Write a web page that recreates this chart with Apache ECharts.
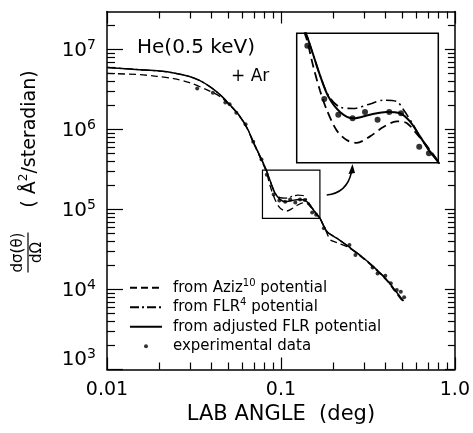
<!DOCTYPE html>
<html><head><meta charset="utf-8">
<script src="https://cdn.jsdelivr.net/npm/echarts@6/dist/echarts.min.js"></script>
<style>html,body{margin:0;padding:0;background:#fff}#c{width:473px;height:433px}</style>
</head><body><div id="c"></div>
<script>
const FONT = 'DejaVu Sans';

// ---- data (lab angle in deg, cross section in Å²/sr) ----
const adjX = [0.01, 0.0154, 0.0201, 0.0242, 0.0298, 0.0340, 0.0388, 0.0443, 0.0505, 0.0576, 0.0640, 0.0693, 0.0773, 0.0823, 0.0856, 0.0887, 0.0928, 0.0988, 0.1061, 0.1161, 0.1269, 0.1363, 0.1438, 0.1518, 0.1602, 0.1675, 0.1843, 0.2103, 0.2453, 0.2922, 0.3486, 0.4155, 0.4437, 0.506];
const adjY = [5.99e6, 5.62e6, 5.39e6, 5.11e6, 4.62e6, 4.12e6, 3.48e6, 2.78e6, 2.08e6, 1.50e6, 1.04e6, 7.04e5, 4.24e5, 3.12e5, 2.47e5, 1.99e5, 1.58e5, 1.34e5, 1.25e5, 1.30e5, 1.34e5, 1.32e5, 1.21e5, 1.03e5, 8.73e4, 7.8e4, 5.28e4, 4.36e4, 3.43e4, 2.57e4, 1.84e4, 1.25e4, 1.035e4, 7.2e3];

const flrX = [0.01, 0.0154, 0.0201, 0.0242, 0.0298, 0.0340, 0.0388, 0.0443, 0.0505, 0.0576, 0.0640, 0.0693, 0.0773, 0.0823, 0.0856, 0.0887, 0.0928, 0.0988, 0.1061, 0.1161, 0.1247, 0.1339, 0.1387, 0.1451, 0.1518, 0.1602, 0.1675, 0.1843, 0.2103, 0.2453, 0.2922, 0.3486, 0.4155, 0.4437, 0.506];
const flrY = [5.99e6, 5.62e6, 5.39e6, 5.11e6, 4.62e6, 4.12e6, 3.48e6, 2.78e6, 2.08e6, 1.50e6, 1.04e6, 7.04e5, 4.24e5, 3.12e5, 2.47e5, 1.99e5, 1.60e5, 1.41e5, 1.39e5, 1.46e5, 1.52e5, 1.50e5, 1.38e5, 1.20e5, 1.03e5, 8.73e4, 7.8e4, 5.28e4, 4.36e4, 3.43e4, 2.57e4, 1.84e4, 1.25e4, 1.035e4, 7.2e3];

const azizX = [0.01, 0.0154, 0.0193, 0.0242, 0.0298, 0.0373, 0.0443, 0.0505, 0.0576, 0.0640, 0.0693, 0.0773, 0.0823, 0.0856, 0.0887, 0.092, 0.097, 0.1024, 0.108, 0.1161, 0.1247, 0.1339, 0.1413, 0.1491, 0.1602, 0.1675, 0.1843, 0.1927, 0.2103, 0.2453, 0.2922, 0.3486, 0.4155, 0.4437, 0.506];
const azizY = [5.04e6, 4.87e6, 4.64e6, 4.34e6, 3.87e6, 3.16e6, 2.62e6, 2.05e6, 1.49e6, 1.03e6, 6.90e5, 4.10e5, 3.0e5, 2.18e5, 1.69e5, 1.37e5, 1.10e5, 9.9e4, 9.6e4, 1.03e5, 1.14e5, 1.21e5, 1.19e5, 1.06e5, 8.9e4, 7.8e4, 5.0e4, 4.16e4, 3.85e4, 3.35e4, 2.52e4, 1.80e4, 1.22e4, 1.0e4, 6.9e3];

const expX = [0.0330, 0.0406, 0.0479, 0.0507, 0.0554, 0.0626, 0.0693, 0.0773, 0.0829, 0.0908, 0.0979, 0.1057, 0.1130, 0.1209, 0.1287, 0.1371, 0.1512, 0.1593, 0.1765, 0.2476, 0.268, 0.3365, 0.3593, 0.398, 0.428, 0.4634, 0.4886, 0.5107];
const expY = [3.27e6, 2.90e6, 2.19e6, 2.07e6, 1.63e6, 1.17e6, 7.04e5, 4.24e5, 2.73e5, 1.54e5, 1.30e5, 1.25e5, 1.34e5, 1.23e5, 1.34e5, 1.32e5, 9.2e4, 8.6e4, 5.82e4, 3.6e4, 2.7e4, 1.89e4, 1.59e4, 1.49e4, 1.195e4, 9.86e3, 9.39e3, 7.99e3];

// axes
const xRange = [0.01, 1];
const yRange = [1e3, 3e7];
const xMajor = [0.01, 0.1, 1];
const xMinor = [0.02,0.03,0.04,0.05,0.06,0.07,0.08,0.09,0.2,0.3,0.4,0.5,0.6,0.7,0.8,0.9];
const yMajor = [1e3, 1e4, 1e5, 1e6, 1e7];
const yLabels = [1e4, 1e5, 1e6, 1e7];
const yMinor = [2e3,3e3,4e3,5e3,6e3,7e3,8e3,9e3,2e4,3e4,4e4,5e4,6e4,7e4,8e4,9e4,2e5,3e5,4e5,5e5,6e5,7e5,8e5,9e5,2e6,3e6,4e6,5e6,6e6,7e6,8e6,9e6,2e7];
// magnified window (inset)
const zoomX = [0.0783, 0.1675];
const zoomY = [7.76e4, 3.12e5];

const names = ['from Aziz10 potential', 'from FLR4 potential', 'from adjusted FLR potential', 'experimental data'];

const zip = (a, b) => a.map((v, i) => [v, b[i]]);

function xAx(grid, pos, ticks, len, extra) {
  return Object.assign({
    type: 'log', logBase: 10, gridIndex: grid, min: xRange[0], max: xRange[1], position: pos,
    axisLine: { show: true, onZero: false, lineStyle: { color: '#000', width: 1.5 } },
    axisTick: { show: true, inside: true, length: len, customValues: ticks, lineStyle: { color: '#000', width: 1.2 } },
    axisLabel: { show: false }, splitLine: { show: false }, minorTick: { show: false }
  }, extra || {});
}
function yAx(grid, pos, ticks, len, extra) {
  return Object.assign({
    type: 'log', logBase: 10, gridIndex: grid, min: yRange[0], max: yRange[1], position: pos,
    axisLine: { show: true, onZero: false, lineStyle: { color: '#000', width: 1.5 } },
    axisTick: { show: true, inside: true, length: len, customValues: ticks, lineStyle: { color: '#000', width: 1.2 } },
    axisLabel: { show: false }, splitLine: { show: false }, minorTick: { show: false }
  }, extra || {});
}

const yRich = {
  b: { fontFamily: FONT, fontSize: 20, color: '#000', lineHeight: 22, verticalAlign: 'bottom' },
  s: { fontFamily: FONT, fontSize: 14, color: '#000', lineHeight: 14, padding: [0, 0, 16, 0], verticalAlign: 'top' }
};
const yFmt = v => '{b|10}{s|' + Math.round(Math.log10(v)) + '}';

const chart = echarts.init(document.getElementById('c'), null, { renderer: 'canvas' });

const mainLine = (name, x, y, type, w) => ({
  name, type: 'line', xAxisIndex: 0, yAxisIndex: 0, data: zip(x, y), smooth: 0.3,
  symbol: 'none', lineStyle: { color: '#000', width: w, type }, animation: false, z: 3
});
const insetLine = (name, x, y, type, w) => ({
  name, type: 'line', xAxisIndex: 4, yAxisIndex: 4, data: zip(x, y), smooth: 0.3,
  symbol: 'none', lineStyle: { color: '#000', width: w, type }, animation: false, clip: true, z: 3
});

const adjMain = mainLine(names[2], adjX, adjY, 'solid', 1.5);
adjMain.markArea = {
  silent: true,
  itemStyle: { color: 'rgba(0,0,0,0)', borderColor: '#000', borderWidth: 1.2 },
  data: [[{ coord: [zoomX[0], zoomY[1]] }, { coord: [zoomX[1], zoomY[0]] }]]
};

chart.setOption({
  animation: false,
  backgroundColor: '#fff',
  grid: [
    { left: 107, top: 11.5, width: 349.7, height: 358 },
    { left: 296.7, top: 33.3, width: 141.6, height: 129.4, show: true, borderColor: '#000', borderWidth: 1.5, backgroundColor: 'rgba(0,0,0,0)' }
  ],
  xAxis: [
    xAx(0, 'bottom', xMajor, 12, {
      axisLabel: { show: true, customValues: xMajor, margin: 11, fontFamily: FONT, fontSize: 19, color: '#000',
        formatter: v => v < 0.05 ? '0.01' : (v < 0.5 ? '0.1' : '1.0') },
      name: 'LAB ANGLE  (deg)', nameLocation: 'middle', nameGap: 30,
      nameTextStyle: { fontFamily: FONT, fontSize: 21, color: '#000' }
    }),
    xAx(0, 'bottom', xMinor, 7, { axisLine: { show: false } }),
    xAx(0, 'top', xMajor, 12),
    xAx(0, 'top', xMinor, 7, { axisLine: { show: false } }),
    { type: 'log', gridIndex: 1, min: zoomX[0], max: zoomX[1], show: false }
  ],
  yAxis: [
    yAx(0, 'left', yMajor, 16, {
      axisLabel: { show: true, customValues: yLabels, margin: 11, formatter: yFmt, rich: yRich }
    }),
    yAx(0, 'left', yMinor, 8, {
      axisLine: { show: false },
      axisLabel: { show: true, customValues: [1e3], margin: 11, verticalAlign: 'bottom', formatter: yFmt, rich: yRich }
    }),
    yAx(0, 'right', yMajor, 10),
    yAx(0, 'right', yMinor, 7, { axisLine: { show: false } }),
    { type: 'log', gridIndex: 1, min: zoomY[0], max: zoomY[1], show: false }
  ],
  legend: {
    orient: 'vertical', left: 124, top: 273, itemWidth: 32, itemHeight: 4, itemGap: 0,
    selectedMode: false,
    data: [
      { name: names[0], itemStyle: { opacity: 0 } },
      { name: names[1], itemStyle: { opacity: 0 } },
      { name: names[2], itemStyle: { opacity: 0 } },
      { name: names[3] }
    ],
    formatter: n => {
      if (n === names[0]) return '{f|from Aziz}{s|10}{t| potential}';
      if (n === names[1]) return '{f|from FLR}{s|4}{t| potential}';
      return '{f|' + n + '}';
    },
    textStyle: {
      fontFamily: FONT, fontSize: 15, color: '#000', lineHeight: 19.5,
      rich: {
        f: { fontFamily: FONT, fontSize: 15, color: '#000', lineHeight: 19.5, padding: [0, 0, 0, 6] },
        t: { fontFamily: FONT, fontSize: 15, color: '#000', lineHeight: 19.5 },
        s: { fontFamily: FONT, fontSize: 10, color: '#000', lineHeight: 10, verticalAlign: 'top' }
      }
    }
  },
  series: [
    mainLine(names[0], azizX, azizY, [7, 4], 1.3),
    mainLine(names[1], flrX, flrY, [9, 3, 2, 3], 1.3),
    adjMain,
    { name: names[3], type: 'scatter', xAxisIndex: 0, yAxisIndex: 0, data: zip(expX, expY),
      symbol: 'circle', symbolSize: 4, itemStyle: { color: '#000' }, animation: false, z: 4 },
    insetLine(names[0], azizX, azizY, [9, 5], 1.8),
    insetLine(names[1], flrX, flrY, [10, 4, 2, 4], 1.6),
    insetLine(names[2], adjX, adjY, 'solid', 2),
    { name: names[3], type: 'scatter', xAxisIndex: 4, yAxisIndex: 4, data: zip(expX, expY), clip: true,
      symbol: 'circle', symbolSize: 6, itemStyle: { color: '#000' }, animation: false, z: 4 }
  ],
  graphic: [
    { type: 'text', x: 137, y: 47.5, style: { text: 'He(0.5 keV)', fontFamily: FONT, fontSize: 20, fill: '#000', verticalAlign: 'middle', align: 'left' } },
    { type: 'text', x: 231, y: 76.5, style: { text: '+ Ar', fontFamily: FONT, fontSize: 17, fill: '#000', verticalAlign: 'middle', align: 'left' } },
    { type: 'group', x: 29, y: 139, rotation: Math.PI / 2, children: [
      { type: 'text', style: { text: '{p|( Å}{s|2}{p|/steradian)}', align: 'center', verticalAlign: 'middle',
        rich: {
          p: { fontFamily: FONT, fontSize: 19, fill: '#000', color: '#000', lineHeight: 22, verticalAlign: 'bottom' },
          s: { fontFamily: FONT, fontSize: 12, fill: '#000', color: '#000', lineHeight: 12, padding: [0, 0, 12, 0], verticalAlign: 'top' }
        } } }
    ] },
    { type: 'group', x: 28, y: 252.5, rotation: Math.PI / 2, children: [
      { type: 'text', x: 0, y: -2, style: { text: 'dσ(θ)', fontFamily: FONT, fontSize: 15, fill: '#000', align: 'center', verticalAlign: 'bottom' } },
      { type: 'line', shape: { x1: -20, y1: 0, x2: 20, y2: 0 }, style: { stroke: '#000', lineWidth: 1.2 } },
      { type: 'text', x: 0, y: 2, style: { text: 'dΩ', fontFamily: FONT, fontSize: 15, fill: '#000', align: 'center', verticalAlign: 'top' } }
    ] },
    { type: 'bezierCurve', shape: { x1: 326.7, y1: 195, cpx1: 347, cpy1: 193, x2: 351.5, y2: 172 }, style: { stroke: '#000', lineWidth: 1.5, fill: null } },
    { type: 'polygon', shape: { points: [[352.5, 164], [348.5, 174], [355, 173]] }, style: { fill: '#000' } }
  ]
});
</script>
</body></html>
